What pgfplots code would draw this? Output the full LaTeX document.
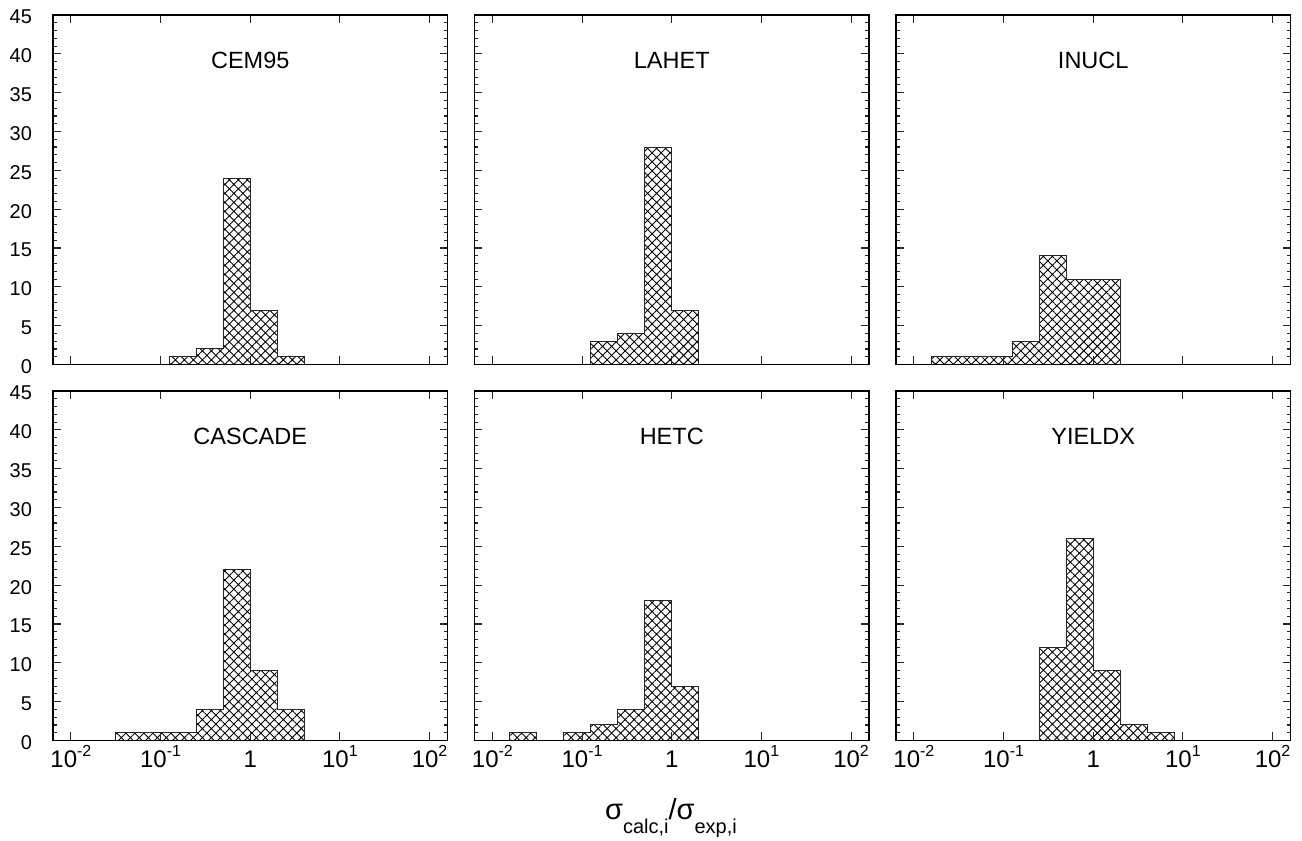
\documentclass[border=0pt]{standalone}
\usepackage{fontspec}
\setmainfont{Liberation Sans}
\usepackage{pgfplots}
\pgfplotsset{compat=1.18}
\usetikzlibrary{patterns.meta}

\pgfplotsset{
  every axis/.append style={
    scale only axis,
    width=197.25pt, height=174.75pt,
    ymin=0, ymax=45,
    ytick={0,5,...,45},
    minor y tick num=4,
    xminorticks=false,
    tick align=inside,
    major tick length=4pt,
    minor tick length=2pt,
    axis line style={line width=0.9pt},
    every tick/.append style={black!85, line width=0.55pt},
    axis on top,
    y tick label style={font=\fontsize{10}{12}\selectfont, xshift=-7pt, yshift=-1pt},
    clip=false,
  },
}
\tikzset{ttl/.style={font=\fontsize{11.75}{14}\selectfont}}
\newcommand\sups[1]{\raisebox{5.6pt}{\fontsize{8}{9}\selectfont #1}}
\newcommand\xtl[1]{\fontsize{12}{14}\selectfont\vphantom{1\sups{2}}#1}
\tikzset{hp/.style={draw=black!85, line width=0.5pt,
    pattern={Hatch[angle=45,distance=3.18pt,line width=0.45pt]}}}

\begin{document}
\begin{tikzpicture}
\useasboundingbox (0,0) rectangle (651pt,-420.5pt);

% Row 1
\begin{axis}[xmode=log, xmin=0.00631, xmax=158.5, xtick={0.01,0.1,1,10,100},
  xticklabels={}, yticklabels={0,5,10,15,20,25,30,35,40,45}, anchor=north west, at={(26.5pt,-7.5pt)}]
\addplot[const plot, hp] coordinates {(0.125,1) (0.25,2) (0.5,24) (1,7) (2,1) (4,1)} \closedcycle;
\node[ttl] at (axis description cs:0.5,0.87) {CEM95};
\end{axis}

\begin{axis}[xmode=log, xmin=0.00631, xmax=158.5, xtick={0.01,0.1,1,10,100},
  xticklabels={}, yticklabels={}, anchor=north west, at={(237.25pt,-7.5pt)}]
\addplot[const plot, hp] coordinates {(0.125,3) (0.25,4) (0.5,28) (1,7) (2,7)} \closedcycle;
\node[ttl] at (axis description cs:0.5,0.87) {LAHET};
\end{axis}

\begin{axis}[xmode=log, xmin=0.00631, xmax=158.5, xtick={0.01,0.1,1,10,100},
  xticklabels={}, yticklabels={}, anchor=north west, at={(448pt,-7.5pt)}]
\addplot[const plot, hp] coordinates {(0.015625,1) (0.03125,1) (0.0625,1) (0.125,3) (0.25,14) (0.5,11) (1,11) (2,11)} \closedcycle;
\node[ttl] at (axis description cs:0.5,0.87) {INUCL};
\end{axis}

% Row 2
\begin{axis}[xmode=log, xmin=0.00631, xmax=158.5, xtick={0.01,0.1,1,10,100},
  xticklabels={\xtl{10\sups{-2}},\xtl{10\sups{-1}},\xtl{1},\xtl{10\sups{1}},\xtl{10\sups{2}}},
  xticklabel style={yshift=1pt},
  yticklabels={0,5,10,15,20,25,30,35,40,45}, anchor=north west, at={(26.5pt,-195.5pt)}]
\addplot[const plot, hp] coordinates {(0.03125,1) (0.0625,1) (0.125,1) (0.25,4) (0.5,22) (1,9) (2,4) (4,4)} \closedcycle;
\node[ttl] at (axis description cs:0.5,0.87) {CASCADE};
\end{axis}

\begin{axis}[xmode=log, xmin=0.00631, xmax=158.5, xtick={0.01,0.1,1,10,100},
  xticklabels={\xtl{10\sups{-2}},\xtl{10\sups{-1}},\xtl{1},\xtl{10\sups{1}},\xtl{10\sups{2}}},
  xticklabel style={yshift=1pt},
  yticklabels={}, anchor=north west, at={(237.25pt,-195.5pt)}]
\addplot[const plot, hp] coordinates {(0.015625,1) (0.03125,1)} \closedcycle;
\addplot[const plot, hp] coordinates {(0.0625,1) (0.125,2) (0.25,4) (0.5,18) (1,7) (2,7)} \closedcycle;
\node[ttl] at (axis description cs:0.5,0.87) {HETC};
\end{axis}

\begin{axis}[xmode=log, xmin=0.00631, xmax=158.5, xtick={0.01,0.1,1,10,100},
  xticklabels={\xtl{10\sups{-2}},\xtl{10\sups{-1}},\xtl{1},\xtl{10\sups{1}},\xtl{10\sups{2}}},
  xticklabel style={yshift=1pt},
  yticklabels={}, anchor=north west, at={(448pt,-195.5pt)}]
\addplot[const plot, hp] coordinates {(0.25,12) (0.5,26) (1,9) (2,2) (4,1) (8,1)} \closedcycle;
\node[ttl] at (axis description cs:0.5,0.87) {YIELDX};
\end{axis}

\node[anchor=base, font=\fontsize{14.5}{16}\selectfont] at (335.5pt,-409.5pt)
  {σ\raisebox{-7pt}{\fontsize{10}{12}\selectfont calc,i}/σ\raisebox{-7pt}{\fontsize{10}{12}\selectfont exp,i}};
\end{tikzpicture}
\end{document}
